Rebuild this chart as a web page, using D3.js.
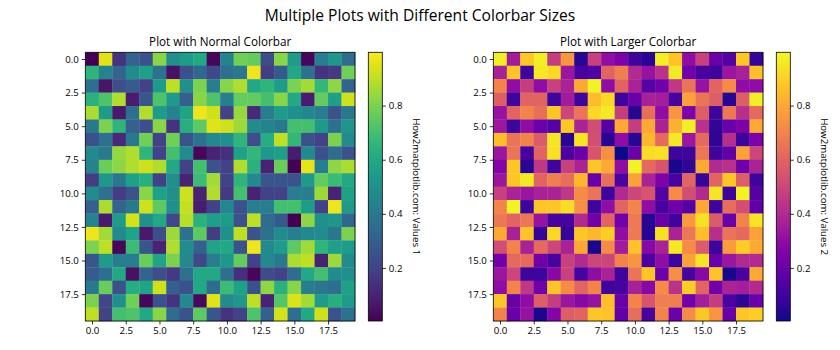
<!DOCTYPE html>
<html><head><meta charset="utf-8">
<script src="https://cdn.jsdelivr.net/npm/d3@7"></script>
<style>body{margin:0;background:#fff} text{font-family:'Open Sans',sans-serif;fill:#000}</style>
</head><body><svg id="c" width="840" height="350"></svg>
<script>
// ---------- data ----------
const rowIndex = d3.range(20);
const colIndex = d3.range(20);
const axisTicks = [0, 2.5, 5, 7.5, 10, 12.5, 15, 17.5];
const colorbarTicks = [0.2, 0.4, 0.6, 0.8];
const colorDomain = [0.004, 0.997];

const values1 = [
 [0.00,0.95,0.15,0.32,0.25,0.82,0.50,0.55,0.60,0.02, 0.45,0.78,0.76,0.23,0.82,0.55,0.02,0.42,0.53,0.35],
 [0.65,0.45,0.32,0.48,0.56,0.38,0.05,0.25,0.33,0.22, 0.36,0.40,0.97,0.18,0.28,0.60,0.38,0.15,0.17,0.78],
 [0.36,0.06,0.24,0.29,0.20,0.55,0.90,0.50,0.80,0.42, 0.82,0.88,0.60,0.65,0.55,0.80,0.86,0.66,0.83,0.32],
 [0.64,0.72,0.88,0.08,0.27,0.72,0.54,0.30,0.82,0.72, 0.43,0.76,0.76,0.70,0.82,0.60,0.08,0.76,0.56,0.92],
 [0.87,0.55,0.07,0.36,0.88,0.55,0.45,0.58,0.97,0.92, 0.20,0.84,0.12,0.42,0.55,0.50,0.46,0.42,0.26,0.40],
 [0.40,0.80,0.65,0.31,0.24,0.82,0.15,0.63,0.75,0.95, 0.92,0.85,0.48,0.45,0.40,0.70,0.70,0.54,0.38,0.52],
 [0.25,0.37,0.12,0.40,0.78,0.20,0.78,0.26,0.38,0.47, 0.50,0.65,0.24,0.62,0.90,0.66,0.25,0.20,0.80,0.48],
 [0.47,0.40,0.84,0.88,0.65,0.20,0.70,0.48,0.02,0.10, 0.14,0.57,0.66,0.53,0.56,0.08,0.47,0.25,0.35,0.26],
 [0.45,0.77,0.83,0.88,0.92,0.88,0.60,0.20,0.70,0.26, 0.20,0.88,0.64,0.10,0.77,0.01,0.96,0.42,0.83,0.87],
 [0.18,0.53,0.40,0.57,0.63,0.20,0.50,0.10,0.68,0.86, 0.20,0.65,0.47,0.27,0.27,0.26,0.54,0.76,0.68,0.60],
 [0.48,0.37,0.18,0.26,0.82,0.57,0.50,0.92,0.10,0.88, 0.17,0.70,0.10,0.20,0.20,0.42,0.42,0.85,0.10,0.57],
 [0.30,0.87,0.32,0.40,0.92,0.75,0.50,0.91,0.08,0.20, 0.46,0.25,0.42,0.42,0.70,0.70,0.55,0.20,0.97,0.54],
 [0.44,0.07,0.55,0.93,0.50,0.60,0.22,0.89,0.64,0.56, 0.55,0.25,0.90,0.35,0.28,0.00,0.83,0.50,0.52,0.33],
 [0.97,0.86,0.48,0.58,0.07,0.23,0.85,0.37,0.75,0.18, 0.50,0.90,0.26,0.37,0.48,0.43,0.47,0.48,0.40,0.80],
 [0.80,0.90,0.02,0.68,0.27,0.10,0.88,0.48,0.30,0.58, 0.60,0.26,0.97,0.47,0.55,0.75,0.86,0.65,0.56,0.55],
 [0.27,0.55,0.42,0.42,0.77,0.58,0.80,0.47,0.22,0.42, 0.53,0.76,0.20,0.47,0.40,0.87,0.90,0.10,0.85,0.48],
 [0.29,0.36,0.60,0.05,0.32,0.24,0.17,0.37,0.60,0.60, 0.36,0.14,0.02,0.23,0.20,0.35,0.60,0.70,0.48,0.50],
 [0.40,0.77,0.25,0.62,0.58,0.92,0.30,0.25,0.60,0.35, 0.68,0.57,0.25,0.83,0.64,0.82,0.42,0.39,0.36,0.57],
 [0.80,0.21,0.50,0.78,0.02,0.25,0.15,0.47,0.03,0.95, 0.48,0.53,0.90,0.10,0.73,0.94,0.86,0.55,0.63,0.55],
 [0.90,0.20,0.70,0.72,0.60,0.82,0.35,0.26,0.75,0.27, 0.15,0.20,0.72,0.30,0.93,0.36,0.60,0.92,0.26,0.38]
];

const values2 = [
 [0.97,0.35,0.88,0.97,0.47,0.75,0.05,0.48,0.30,0.25, 0.10,0.05,0.97,0.87,0.30,0.48,0.20,0.15,0.88,0.08],
 [0.37,0.87,0.10,0.96,0.92,0.33,0.12,0.14,0.60,0.68, 0.40,0.32,0.43,0.96,0.22,0.12,0.10,0.33,0.37,0.86],
 [0.70,0.30,0.47,0.30,0.48,0.38,0.80,0.98,0.30,0.60, 0.38,0.15,0.22,0.45,0.65,0.32,0.60,0.72,0.30,0.30],
 [0.58,0.10,0.60,0.60,0.10,0.35,0.10,0.85,0.92,0.10, 0.20,0.37,0.36,0.12,0.78,0.65,0.58,0.05,0.58,0.97],
 [0.32,0.60,0.70,0.64,0.88,0.50,0.65,0.92,0.96,0.47, 0.05,0.63,0.30,0.75,0.25,0.58,0.10,0.66,0.42,0.62],
 [0.34,0.10,0.30,0.20,0.15,0.88,0.38,0.52,0.15,0.80, 0.47,0.80,0.38,0.82,0.97,0.43,0.07,0.20,0.25,0.80],
 [0.86,0.65,0.70,0.57,0.95,0.05,0.95,0.53,0.05,0.30, 0.05,0.84,0.62,0.96,0.33,0.62,0.06,0.42,0.10,0.25],
 [0.33,0.65,0.12,0.60,0.94,0.13,0.20,0.55,0.73,0.00, 0.20,0.93,0.94,0.10,0.10,0.66,0.10,0.18,0.78,0.50],
 [0.27,0.88,0.05,0.45,0.10,0.48,0.38,0.88,0.80,0.30, 0.98,0.62,0.55,0.02,0.06,0.80,0.40,0.43,0.22,0.38],
 [0.33,0.88,0.96,0.60,0.68,0.63,0.84,0.20,0.64,0.13, 0.78,0.38,0.25,0.12,0.60,0.08,0.60,0.88,0.58,0.10],
 [0.48,0.38,0.33,0.37,0.38,0.45,0.72,0.65,0.10,0.40, 0.50,0.55,0.15,0.72,0.52,0.40,0.95,0.10,0.98,0.15],
 [0.70,0.98,0.10,0.88,0.88,0.93,0.73,0.10,0.30,0.60, 0.70,0.30,0.12,0.22,0.15,0.80,0.10,0.63,0.53,0.18],
 [0.66,0.60,0.66,0.32,0.12,0.12,0.40,0.22,0.60,0.22, 0.67,0.05,0.20,0.10,0.76,0.94,0.57,0.20,0.70,0.95],
 [0.80,0.37,0.87,0.08,0.92,0.08,0.88,0.84,0.90,0.30, 0.67,0.05,0.94,0.38,0.66,0.86,0.42,0.65,0.62,0.78],
 [0.52,0.70,0.37,0.62,0.50,0.38,0.80,0.02,0.72,0.35, 0.87,0.28,0.37,0.96,0.72,0.57,0.10,0.77,0.90,0.80],
 [0.22,0.62,0.62,0.22,0.12,0.48,0.40,0.50,0.50,0.70, 0.75,0.13,0.30,0.10,0.78,0.95,0.20,0.33,0.40,0.40],
 [0.33,0.50,0.10,0.10,0.28,0.48,0.12,0.30,0.38,0.10, 0.65,0.88,0.20,0.73,0.12,0.28,0.87,0.02,0.12,0.80],
 [0.30,0.70,0.45,0.22,0.87,0.72,0.60,0.70,0.10,0.12, 0.37,0.28,0.72,0.43,0.90,0.60,0.22,0.38,0.36,0.40],
 [0.88,0.20,0.30,0.58,0.47,0.33,0.28,0.32,0.86,0.20, 0.70,0.55,0.68,0.68,0.22,0.36,0.47,0.13,0.06,0.20],
 [0.70,0.20,0.32,0.03,0.27,0.58,0.60,0.88,0.87,0.18, 0.63,0.12,0.70,0.20,0.72,0.88,0.75,0.20,0.88,0.90]
];

const mainTitle = "Multiple Plots with Different Colorbar Sizes";
const panelTitles = ["Plot with Normal Colorbar", "Plot with Larger Colorbar"];
const colorbarLabels = ["How2matplotlib.com: Values 1", "How2matplotlib.com: Values 2"];

// ---------- drawing ----------
const svg = d3.select("#c");
svg.append("text").attr("x", 420).attr("y", 21).attr("text-anchor", "middle")
  .style("font-size", "15.6px").text(mainTitle);

const fmt = d3.format(".1f");

function panel(data, interp, L, title, cbLabel, idx) {
  const x = d3.scaleLinear().domain([-0.5, 19.5]).range([L.x0, L.x1]);
  const y = d3.scaleLinear().domain([-0.5, 19.5]).range([L.y0, L.y1]);
  const norm = d3.scaleLinear().domain(colorDomain).range([0, 1]).clamp(true);
  const color = v => interp(norm(v));
  const g = svg.append("g");

  const cells = [];
  data.forEach((row, i) => row.forEach((v, j) => cells.push({i, j, v})));
  g.selectAll("rect.cell").data(cells).join("rect")
    .attr("x", d => x(d.j - 0.5)).attr("y", d => y(d.i - 0.5))
    .attr("width", d => x(d.j + 0.5) - x(d.j - 0.5) + 0.3)
    .attr("height", d => y(d.i + 0.5) - y(d.i - 0.5) + 0.3)
    .attr("fill", d => color(d.v));
  g.append("rect").attr("x", L.x0).attr("y", L.y0)
    .attr("width", L.x1 - L.x0).attr("height", L.y1 - L.y0)
    .attr("fill", "none").attr("stroke", "#000").attr("stroke-width", 0.8);

  const xa = g.append("g").attr("transform", `translate(0,${L.y1})`)
    .call(d3.axisBottom(x).tickValues(axisTicks).tickFormat(fmt).tickSize(3.5).tickPadding(3));
  const ya = g.append("g").attr("transform", `translate(${L.x0},0)`)
    .call(d3.axisLeft(y).tickValues(axisTicks).tickFormat(fmt).tickSize(3.5).tickPadding(3));
  [xa, ya].forEach(a => {
    a.select(".domain").remove();
    a.selectAll("line").attr("stroke", "#000").attr("stroke-width", 0.8);
    a.selectAll("text").style("font-size", "9.7px").attr("fill", "#000");
  });

  g.append("text").attr("x", (L.x0 + L.x1) / 2).attr("y", L.y0 - 6)
    .attr("text-anchor", "middle").style("font-size", "11.7px").text(title);

  // colorbar
  const cb = d3.scaleLinear().domain(colorDomain).range([L.y1, L.y0]);
  const gid = "grad" + idx;
  const grad = svg.append("defs").append("linearGradient").attr("id", gid)
    .attr("x1", 0).attr("y1", 1).attr("x2", 0).attr("y2", 0);
  d3.range(0, 1.0001, 0.02).forEach(t =>
    grad.append("stop").attr("offset", t).attr("stop-color", interp(t)));
  g.append("rect").attr("x", L.cx).attr("y", L.y0).attr("width", L.cw)
    .attr("height", L.y1 - L.y0).attr("fill", `url(#${gid})`)
    .attr("stroke", "#000").attr("stroke-width", 0.8);
  const ca = g.append("g").attr("transform", `translate(${L.cx + L.cw},0)`)
    .call(d3.axisRight(cb).tickValues(colorbarTicks).tickFormat(fmt).tickSize(3.5).tickPadding(3));
  ca.select(".domain").remove();
  ca.selectAll("line").attr("stroke", "#000").attr("stroke-width", 0.8);
  ca.selectAll("text").style("font-size", "9.7px").attr("fill", "#000");

  g.append("text").attr("transform", `translate(${L.lx},${(L.y0 + L.y1) / 2}) rotate(90)`)
    .attr("text-anchor", "middle").attr("dy", "-0.3em")
    .style("font-size", "9.7px").text(cbLabel);
}

panel(values1, d3.interpolateViridis,
  {x0: 85.3, x1: 355, y0: 52.3, y1: 321, cx: 368.3, cw: 14, lx: 410},
  panelTitles[0], colorbarLabels[0], 1);
panel(values2, d3.interpolatePlasma,
  {x0: 493.3, x1: 763, y0: 52.3, y1: 321, cx: 776.3, cw: 14, lx: 818},
  panelTitles[1], colorbarLabels[1], 2);
</script></body></html>
